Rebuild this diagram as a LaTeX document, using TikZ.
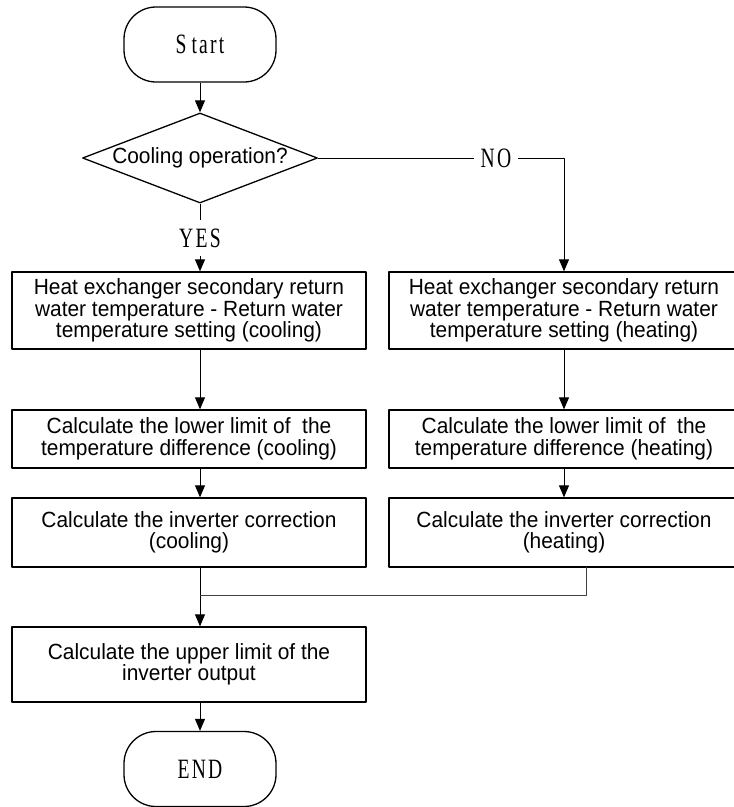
\documentclass[tikz,border=0pt]{standalone}
\usepackage{fontspec}
\setmainfont[FakeStretch=0.95]{Liberation Sans}
\newfontfamily\tagfont[FakeStretch=0.7,LetterSpace=8]{Liberation Serif}
\usetikzlibrary{shapes.geometric,arrows.meta}

\begin{document}
\begin{tikzpicture}[x=1pt,y=-1pt,line join=round,>={Triangle[length=12pt,width=10pt]},font=\fontsize{22}{21.5}\selectfont]
		\tikzset{every node/.style={inner sep=0pt},
			box/.style={draw,line width=1.3pt,align=center,minimum height=#1},
			lbox/.style={box=#1,minimum width=354pt},
			rbox/.style={box=#1,minimum width=350pt},
			term/.style={draw,line width=1.3pt,rounded corners=32pt,minimum width=152pt,minimum height=75pt,font=\tagfont\fontsize{28}{28}\selectfont},
			tag/.style={font=\tagfont\fontsize{28}{28}\selectfont},
			link/.style={line width=0.9pt}}
		\useasboundingbox (0,0) rectangle (734,807);
		% start and decision
		\node[term] (start) at (200,44.5) {S\kern5pt tart};
		\node[draw,diamond,aspect=2.6,line width=1.3pt,minimum width=235pt,minimum height=90pt] (dec) at (200,158) {Cooling operation?};
		\node[tag,minimum height=36pt] (yes) at (200,238) {YES};
		\node[tag,minimum width=44pt] (no) at (496,158) {NO};
		% cooling branch
		\node[lbox=77pt] (c1) at (189,310.5) {Heat exchanger secondary return\\water temperature - Return water\\temperature setting (cooling)};
		\node[lbox=58pt] (c2) at (189,439) {Calculate the lower limit of\ \ the\\temperature difference (cooling)};
		\node[lbox=69pt] (c3) at (189,532.5) {Calculate the inverter correction\\(cooling)};
		% heating branch
		\node[rbox=77pt] (h1) at (564,310.5) {Heat exchanger secondary return\\water temperature - Return water\\temperature setting (heating)};
		\node[rbox=58pt] (h2) at (564,439) {Calculate the lower limit of\ \ the\\temperature difference (heating)};
		\node[rbox=69pt] (h3) at (564,532.5) {Calculate the inverter correction\\(heating)};
		% end
		\node[lbox=75pt] (c4) at (189,664.5) {Calculate the upper limit of the\\inverter output};
		\node[term] (end) at (200,769) {END};
		\coordinate (hout) at (586,567);
		\coordinate (join) at (200,595);
		\draw[link,->] (start) -- (dec);
		\draw[link] (dec) -- (yes);
		\draw[link,->] (yes) -- (c1.north -| start);
		\draw[link] (dec) -- (no);
		\draw[link,->] (no) -| (h1);
		\foreach \a/\b in {c1/c2,c2/c3,c3/c4}
		\draw[link,->] (\a.south -| start) -- (\b.north -| start);
		\foreach \a/\b in {h1/h2,h2/h3}
		\draw[link,->] (\a) -- (\b);
		\draw[link,black!75] (hout) |- (join);
		\draw[link,->] (c4.south -| start) -- (end);
	\end{tikzpicture}
\end{document}
